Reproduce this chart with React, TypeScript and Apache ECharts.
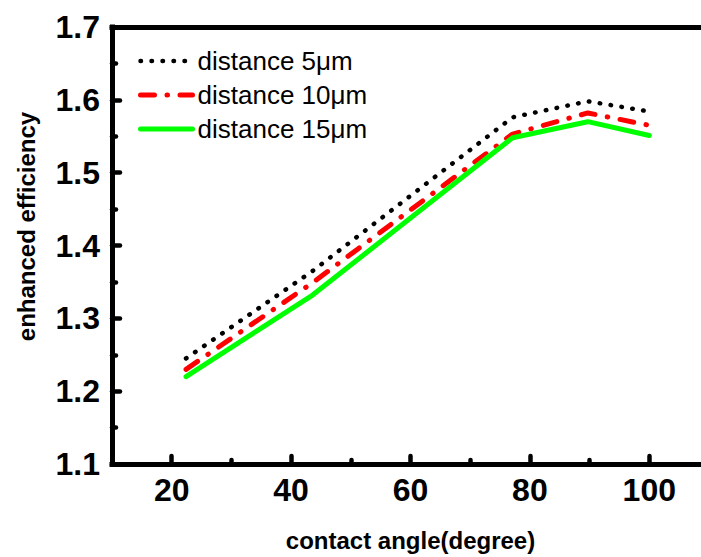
import React, { useEffect, useRef } from "react";
import * as echarts from "echarts";

// contact angle (degree)
const angles = [22.4, 43.6, 77.1, 89.7, 100];
// enhanced efficiency
const dist5 = [1.245, 1.365, 1.576, 1.598, 1.584];
const dist10 = [1.23, 1.349, 1.553, 1.582, 1.565];
const dist15 = [1.22, 1.332, 1.548, 1.57, 1.551];
const seriesNames = ["distance 5μm", "distance 10μm", "distance 15μm"];
const xMajorTicks = [20, 40, 60, 80, 100];
const xMinorTicks = [30, 50, 70, 90];

const FONT = "'Liberation Sans', Arial, Helvetica, sans-serif";
const AXIS_LINE = { color: "#000", width: 5, cap: "square" };
const TICK_LINE = { color: "#000", width: 4.5, cap: "round" };

const LINE_STYLES: any[] = [
  { color: "#000", width: 4.5, type: [0.5, 10.5], cap: "round", join: "round" },
  { color: "#ff0000", width: 5, type: [14, 12.5, 0.5, 12.5], cap: "round", join: "round" },
  { color: "#00ff00", width: 5, type: "solid", cap: "round", join: "round" },
];

export default function App() {
  const ref = useRef<HTMLDivElement>(null);

  useEffect(() => {
    if (!ref.current) return;
    const chart = echarts.init(ref.current, null, { renderer: "svg" });
    const mk = (ys: number[]) => angles.map((a, i) => [a, ys[i]]);
    const allValues = [dist5, dist10, dist15];
    const option: any = {
      animation: false,
      backgroundColor: "#fff",
      grid: {
        left: 112,
        top: 27,
        right: -8,
        bottom: 93,
        containLabel: false,
        outerBoundsMode: "none",
      },
      legend: {
        orient: "vertical",
        left: 133,
        top: 43,
        itemWidth: 52,
        itemHeight: 14,
        itemGap: 8,
        itemStyle: { opacity: 0 },
        textStyle: { fontFamily: FONT, fontSize: 26, color: "#000" },
        data: seriesNames.map((n, i) => ({ name: n, lineStyle: { ...LINE_STYLES[i] } })),
      },
      xAxis: [
        {
          type: "value",
          min: 10,
          max: 110,
          position: "bottom",
          name: "contact angle(degree)",
          nameLocation: "middle",
          nameGap: 64,
          nameTextStyle: { fontFamily: FONT, fontWeight: "bold", fontSize: 24, color: "#000" },
          axisLine: { show: true, onZero: false, lineStyle: AXIS_LINE },
          axisTick: { show: true, inside: true, length: 8, customValues: xMajorTicks, lineStyle: TICK_LINE },
          axisLabel: {
            customValues: xMajorTicks,
            margin: 10,
            fontFamily: FONT,
            fontWeight: "bold",
            fontSize: 32,
            color: "#000",
          },
          splitLine: { show: false },
        },
        {
          type: "value",
          min: 10,
          max: 110,
          position: "bottom",
          axisLine: { show: false },
          axisLabel: { show: false },
          splitLine: { show: false },
          axisTick: { show: true, inside: true, length: 4, customValues: xMinorTicks, lineStyle: TICK_LINE },
        },
        {
          type: "value",
          min: 10,
          max: 110,
          position: "top",
          axisLine: { show: true, onZero: false, lineStyle: AXIS_LINE },
          axisTick: { show: false },
          axisLabel: { show: false },
          splitLine: { show: false },
        },
      ],
      yAxis: {
        type: "value",
        min: 1.1,
        max: 1.7,
        interval: 0.1,
        name: "enhanced efficiency",
        nameLocation: "middle",
        nameGap: 74,
        nameRotate: 90,
        nameTextStyle: {
          fontFamily: FONT,
          fontWeight: "bold",
          fontSize: 24,
          color: "#000",
          padding: [0, 0, 0, 38],
        },
        axisLine: { show: true, onZero: false, lineStyle: AXIS_LINE },
        axisTick: { show: true, inside: true, length: 8, lineStyle: TICK_LINE },
        minorTick: { show: true, splitNumber: 2, length: 4, lineStyle: TICK_LINE },
        axisLabel: {
          margin: 12,
          formatter: (v: number) => v.toFixed(1),
          fontFamily: FONT,
          fontWeight: "bold",
          fontSize: 32,
          color: "#000",
        },
        splitLine: { show: false },
      },
      series: seriesNames.map((n, i) => ({
        type: "line",
        name: n,
        data: mk(allValues[i]),
        showSymbol: false,
        symbol: "circle",
        itemStyle: { color: LINE_STYLES[i].color },
        lineStyle: { ...LINE_STYLES[i] },
      })),
    };
    chart.setOption(option);
    return () => chart.dispose();
  }, []);

  return (
    <div
      ref={ref}
      style={{ position: "absolute", left: 0, top: 0, width: 701, height: 557 }}
    />
  );
}
